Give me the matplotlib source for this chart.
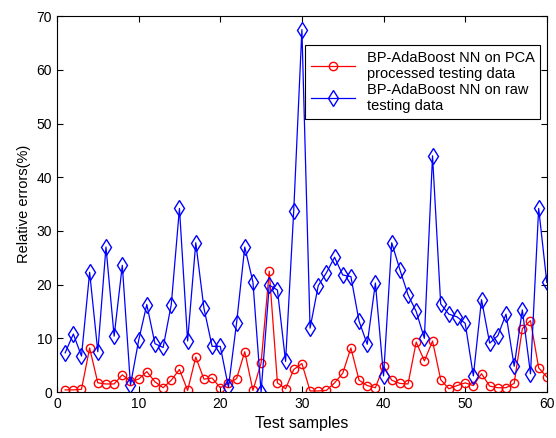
import numpy as np
import matplotlib
matplotlib.use("Agg")
import matplotlib.pyplot as plt

plt.rcParams['font.family'] = ['Liberation Sans', 'DejaVu Sans']

samples = list(range(1, 61))

# BP-AdaBoost NN on PCA processed testing data
pca_err = [0.4, 0.4, 0.5, 8.2, 1.7, 1.5, 1.5, 3.2, 2.0, 2.4,
           3.8, 1.9, 0.8, 2.2, 4.2, 0.3, 6.5, 2.4, 2.6, 0.8,
           1.6, 2.5, 7.5, 0.3, 5.4, 22.5, 1.7, 0.6, 4.2, 5.3,
           0.2, 0.2, 0.3, 1.7, 3.5, 8.2, 2.2, 1.2, 0.8, 4.8,
           2.2, 1.6, 1.5, 9.3, 5.8, 9.5, 2.3, 0.6, 1.2, 1.7,
           1.2, 3.4, 1.1, 0.8, 0.8, 1.6, 11.8, 13.3, 4.5, 2.8]

# BP-AdaBoost NN on raw testing data
raw_err = [7.3, 10.8, 6.7, 22.3, 7.5, 27.0, 10.4, 23.6, 1.3, 9.6,
           16.3, 9.0, 8.3, 16.3, 34.2, 9.5, 27.8, 15.6, 8.5, 8.5,
           0.9, 12.9, 27.0, 20.5, 0.0, 19.9, 19.0, 5.7, 33.8, 67.5,
           11.9, 19.8, 22.2, 25.1, 21.8, 21.5, 13.2, 8.9, 20.3, 3.0,
           27.8, 22.8, 18.1, 15.0, 10.0, 44.0, 16.4, 14.5, 14.0, 12.8,
           3.0, 17.2, 9.1, 10.5, 14.5, 4.8, 15.3, 3.4, 34.2, 20.4]

fig = plt.figure(figsize=(5.56, 4.38), dpi=100)
ax = fig.add_axes([0.1025, 0.105, 0.881, 0.858])

ax.plot(samples, pca_err, color='#ff0000', marker='o', markersize=6,
        markerfacecolor='none', linewidth=0.9,
        label='BP-AdaBoost NN on PCA\nprocessed testing data')
ax.plot(samples, raw_err, color='#0000ff', marker='d', markersize=8,
        markerfacecolor='none', linewidth=0.9,
        label='BP-AdaBoost NN on raw\ntesting data')

ax.set_xlim(0, 60)
ax.set_ylim(0, 70)
ax.set_xticks(range(0, 61, 10))
ax.set_yticks(range(0, 71, 10))
ax.tick_params(direction='in', top=True, right=True, labelsize=10, length=4)
ax.set_xlabel('Test samples', fontsize=11.5)
ax.set_ylabel('Relative errors(%)', fontsize=10.5)

leg = ax.legend(loc='upper right', bbox_to_anchor=(0.987, 0.923),
                borderaxespad=0, fancybox=False, edgecolor='black',
                framealpha=1, fontsize=10.5, handlelength=3.0,
                labelspacing=0.1)
leg.get_frame().set_linewidth(0.8)

plt.savefig("out.png", dpi=100)
